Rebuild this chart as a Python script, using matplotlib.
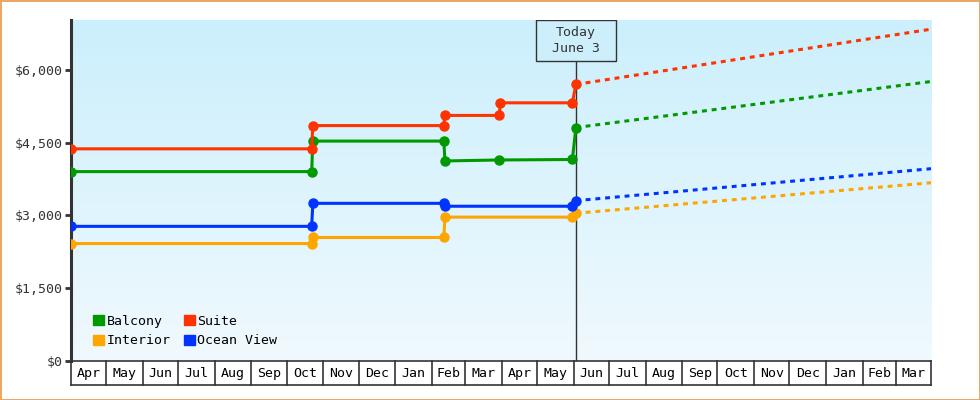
import matplotlib

matplotlib.use("Agg")
import matplotlib.dates as mdates
import matplotlib.pyplot as plt
import numpy as np
import pandas as pd
from matplotlib.patches import Patch, Rectangle
from matplotlib.ticker import FuncFormatter

# axis range and "today" marker
START = "2024-04-01"
END = "2026-03-31"
TODAY = "2025-06-03"

# month labels shown in the boxes under the chart
month_labels = ["Apr", "May", "Jun", "Jul", "Aug", "Sep", "Oct", "Nov", "Dec",
                "Jan", "Feb", "Mar", "Apr", "May", "Jun", "Jul", "Aug", "Sep",
                "Oct", "Nov", "Dec", "Jan", "Feb", "Mar"]

# price history per cabin type (dates, prices) up to today
balcony_dates = ["2024-04-01", "2024-10-22", "2024-10-23", "2025-02-11",
                 "2025-02-12", "2025-03-30", "2025-05-31", "2025-06-03"]
balcony_prices = [3900, 3900, 4530, 4530, 4120, 4140, 4150, 4810]

suite_dates = ["2024-04-01", "2024-10-22", "2024-10-23", "2025-02-11",
               "2025-02-12", "2025-03-30", "2025-03-31", "2025-05-31",
               "2025-06-03"]
suite_prices = [4370, 4370, 4850, 4850, 5060, 5060, 5320, 5320, 5700]

interior_dates = ["2024-04-01", "2024-10-22", "2024-10-23", "2025-02-11",
                  "2025-02-12", "2025-05-31", "2025-06-03"]
interior_prices = [2415, 2415, 2540, 2540, 2960, 2960, 3040]

ocean_dates = ["2024-04-01", "2024-10-22", "2024-10-23", "2025-02-11",
               "2025-02-12", "2025-05-31", "2025-06-03"]
ocean_prices = [2770, 2770, 3245, 3245, 3185, 3185, 3300]

# projected price at the end of the range
projection_end = {"Balcony": 5760, "Suite": 6840,
                  "Interior": 3670, "Ocean View": 3960}

colors = {"Balcony": "#009900", "Suite": "#ff3300",
          "Interior": "#ffa500", "Ocean View": "#0033ff"}

series = {
    "Balcony": (balcony_dates, balcony_prices),
    "Suite": (suite_dates, suite_prices),
    "Interior": (interior_dates, interior_prices),
    "Ocean View": (ocean_dates, ocean_prices),
}

plt.rcParams["font.family"] = "DejaVu Sans Mono"
DARK = "#333333"

fig = plt.figure(figsize=[9.8, 4.0], dpi=100)
fig.patch.set_edgecolor("#e9a965")
fig.patch.set_linewidth(2)

ax = fig.add_axes([71 / 980, 39.5 / 400, 860 / 980, 340.5 / 400])
x0 = mdates.date2num(pd.Timestamp(START))
x1 = mdates.date2num(pd.Timestamp(END))
ax.set_xlim(x0, x1)
ax.set_ylim(0, 7030)

# background gradient
grad = np.linspace(0, 1, 256).reshape(-1, 1)
cmap = matplotlib.colors.LinearSegmentedColormap.from_list(
    "bg", ["#f0f9fe", "#cbeffc"])
ax.imshow(grad, aspect="auto", cmap=cmap, origin="lower",
          extent=[0, 1, 0, 1], transform=ax.transAxes, zorder=0)

for name, (dates, prices) in series.items():
    d = pd.to_datetime(dates)
    ax.plot(d, prices, color=colors[name], lw=2.2, marker="o", ms=6.5,
            solid_joinstyle="round", zorder=3)
    ax.plot([d[-1], pd.Timestamp(END)], [prices[-1], projection_end[name]],
            color=colors[name], lw=2.2, linestyle=(0, (1.6, 1.6)), zorder=3)

# today line with label box
today = pd.Timestamp(TODAY)
ax.axvline(today, color=DARK, lw=1, zorder=2)
tx = (mdates.date2num(today) - x0) / (x1 - x0)
bw, bh = 80 / 860, 41 / 340.5
ax.add_patch(Rectangle((tx - bw / 2, 1 - bh), bw, bh, transform=ax.transAxes,
                       fc="#cdeffc", ec=DARK, lw=1, zorder=5))
ax.text(tx, 1 - bh / 2, "Today\nJune 3", transform=ax.transAxes,
        ha="center", va="center", fontsize=9.5, color=DARK, linespacing=1.35,
        zorder=6)

# axes styling
for s in ["top", "right", "bottom"]:
    ax.spines[s].set_visible(False)
ax.spines["left"].set_linewidth(2.2)
ax.spines["left"].set_color(DARK)
ax.set_yticks([0, 1500, 3000, 4500, 6000])
ax.yaxis.set_major_formatter(FuncFormatter(lambda v, p: f"${v:,.0f}"))
ax.tick_params(axis="y", length=4, width=2, color=DARK, labelsize=9.5,
               labelcolor=DARK, pad=2)
ax.set_xticks([])

handles = [Patch(color=colors[n], label=n)
           for n in ["Balcony", "Interior", "Suite", "Ocean View"]]
ax.legend(handles=handles, ncol=2, loc="lower left",
          bbox_to_anchor=(0.012, 0.004), frameon=False, fontsize=9.5,
          handlelength=0.8, handleheight=0.8, handletextpad=0.2,
          columnspacing=1.05, labelspacing=0.5)

# month boxes under the plot
mx = fig.add_axes([71 / 980, 15 / 400, 860 / 980, 24.5 / 400])
mx.set_xlim(x0, x1)
mx.set_ylim(0, 1)
mx.axis("off")
bounds = pd.date_range(START, periods=len(month_labels) + 1, freq="MS")
for b in bounds:
    xb = min(mdates.date2num(b), x1)
    mx.plot([xb, xb], [0, 1], color=DARK, lw=1.2, clip_on=False)
mx.plot([x0, x1], [0, 0], color=DARK, lw=1.2, clip_on=False)
mx.plot([x0, x1], [1, 1], color=DARK, lw=1.2, clip_on=False)
for i, label in enumerate(month_labels):
    a = mdates.date2num(bounds[i])
    b = min(mdates.date2num(bounds[i + 1]), x1)
    mx.text((a + b) / 2, 0.47, label, ha="center", va="center",
            fontsize=9.5, color="black")

fig.savefig("out.png", dpi=100, edgecolor=fig.get_edgecolor())
